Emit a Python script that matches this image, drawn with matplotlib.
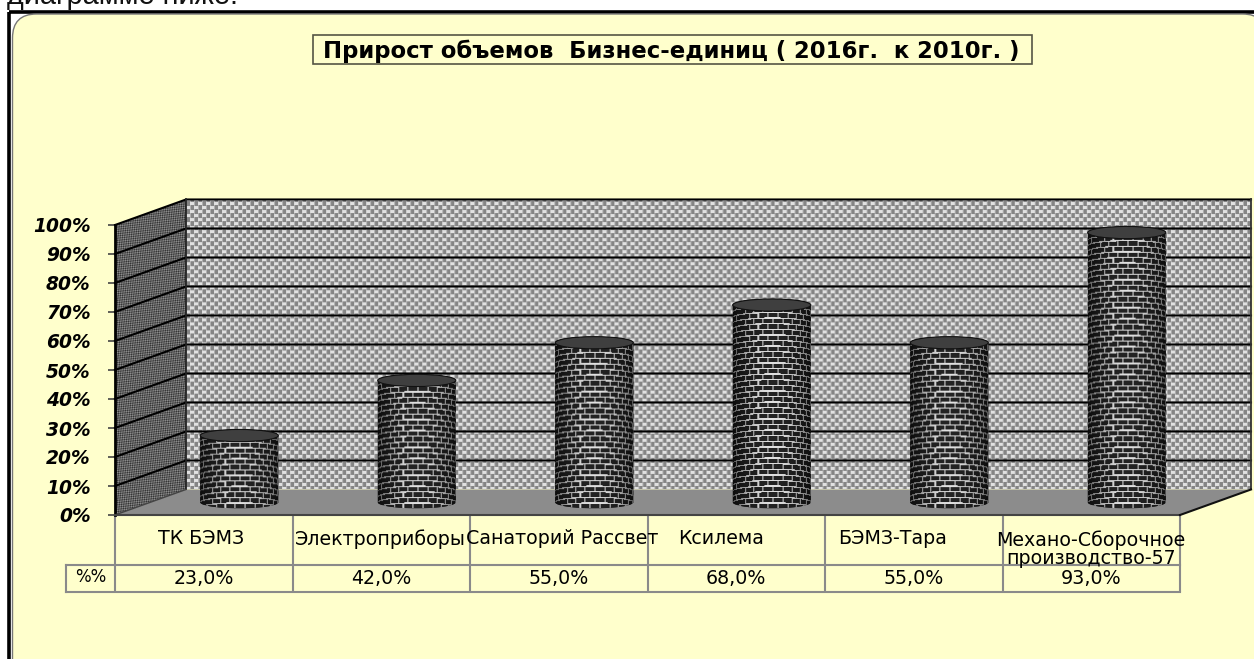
import matplotlib
matplotlib.use('Agg')
import matplotlib.pyplot as plt
import numpy as np
from matplotlib.patches import Polygon, PathPatch, Rectangle, FancyBboxPatch, Ellipse
from matplotlib.path import Path

# data from the chart
categories = ['ТК БЭМЗ', 'Электроприборы', 'Санаторий Рассвет', 'Ксилема', 'БЭМЗ-Тара',
              'Механо-Сборочное\nпроизводство-57']
values = [23.0, 42.0, 55.0, 68.0, 55.0, 93.0]
ticks = [0, 10, 20, 30, 40, 50, 60, 70, 80, 90, 100]
title = 'Прирост объемов  Бизнес-единиц ( 2016г.  к 2010г. )'
intro = 'диаграмме ниже.'
row_name = '%%'

W, H = 1254, 659
BG = '#FFFFCC'
GRID_GRAY = '#8a8a8a'
# depth of the fake 3d box, in data units
dx = 0.40
dy = 8.8
# the labels are not centred in their cells in the original
label_shift = [-3, -1, 3, -15, -21, 0]

fig = plt.figure(figsize=(W / 100, H / 100), dpi=100, facecolor='white')

# page layer in pixel coordinates (frame, title, table)
bg = fig.add_axes([0, 0, 1, 1], zorder=0)
bg.set_xlim(0, W)
bg.set_ylim(H, 0)
bg.axis('off')

bg.add_patch(Rectangle((9, 12), W, H + 100, fc='none', ec='black', lw=2.6))
bg.add_patch(FancyBboxPatch((12.5, 14), W, H + 100, boxstyle='round,pad=0,rounding_size=24',
                            fc=BG, ec='#777777', lw=1))
bg.text(7, 4, intro, fontsize=20.8, family='Liberation Sans', ha='left', va='baseline', color='#111111')

# title box
bg.add_patch(Rectangle((313, 35), 719, 29, fc=BG, ec='#555544', lw=1.2))
bg.text(671, 51, title, fontsize=16.4, family='DejaVu Sans', weight='bold', ha='center', va='center')

# table under the chart
table_x = [115 + i * 177.5 for i in range(len(categories) + 1)]
for x in table_x:
    bg.plot([x, x], [515, 592], color=GRID_GRAY, lw=1.5, solid_capstyle='butt')
bg.plot([66, 1180], [565, 565], color=GRID_GRAY, lw=1.5)
bg.plot([66, 1180], [592, 592], color=GRID_GRAY, lw=1.5)
bg.plot([66, 66], [565, 592], color=GRID_GRAY, lw=1.5)
bg.text(91, 577, row_name, fontsize=12, family='DejaVu Sans', ha='center', va='center')
for i, (name, v) in enumerate(zip(categories, values)):
    cx = (table_x[i] + table_x[i + 1]) / 2
    bg.text(cx + label_shift[i], 539 if '\n' not in name else 549, name, fontsize=13.7, family='DejaVu Sans',
            ha='center', va='center', linespacing=0.9)
    bg.text(cx, 578, f'{v:.1f}%'.replace('.', ','), fontsize=13.7, family='DejaVu Sans',
            ha='center', va='center')

# chart layer: x in categories, y in percent
ax = fig.add_axes([115 / W, (H - 515) / H, 1065 / W, 290 / H], zorder=1)
ax.patch.set_visible(False)
xmin, xmax = -0.5, 5.5
for s in ['top', 'right', 'bottom']:
    ax.spines[s].set_visible(False)
ax.spines['left'].set_linewidth(2)


def texture_image(patch, extent, tile):
    im = ax.imshow(tile, extent=extent, cmap='gray', vmin=0, vmax=1, aspect='auto',
                   interpolation='bilinear', origin='upper', zorder=patch.get_zorder() + 0.1)
    im.set_clip_box(fig.bbox)
    im.set_clip_path(patch)
    return im


def wall_tile(w, h):
    yy, xx = np.mgrid[0:h, 0:w]
    row = (yy // 4) % 2
    a = ((xx + row * 4) % 8 < 4) & (yy % 4 < 3)
    b = ((xx + row * 4) % 4 < 1)
    img = np.full(xx.shape, 0.52)
    img[a] = 0.88
    img[b & ~a] = 0.68
    return img


def side_tile(w, h):
    yy, xx = np.mgrid[0:h, 0:w]
    a = np.sin(2 * np.pi * (xx + yy) / 4.0) * np.sin(2 * np.pi * (xx - yy) / 5.0)
    return np.clip(0.38 + 0.18 * a, 0, 1)


def brick_tile(w, h):
    yy, xx = np.mgrid[0:h, 0:w]
    u = np.clip((xx + 0.5) / w * 2 - 1, -0.999, 0.999)
    # courses bend with the round of the cylinder, joints get tighter at the edges
    bend = 5 * np.sqrt(1 - u ** 2)
    v = h - yy - bend
    course = np.floor(v / 5.6)
    arc = np.arcsin(u) * 39
    mortar_h = (v % 5.6) < 1.3
    mortar_v = ((arc + course * 5) % 10) < 1.4
    shade = 0.30 + 0.70 * np.cos(u * np.pi / 2) ** 0.7
    img = np.full(u.shape, 0.14)
    img[mortar_h | mortar_v] = 0.88
    return np.clip(img * shade, 0, 1)


# back wall
back = Polygon([(xmin + dx, dy), (xmin + dx, 100 + dy), (xmax + dx, 100 + dy), (xmax + dx, dy)],
               fc='#bbbbbb', ec='none', clip_on=False, zorder=1)
ax.add_patch(back)
texture_image(back, (xmin + dx, xmax + dx, dy, 100 + dy), wall_tile(1065, 290))

# left wall
side = Polygon([(xmin, 0), (xmin, 100), (xmin + dx, 100 + dy), (xmin + dx, dy)],
               fc='#666666', ec='none', clip_on=False, zorder=1)
ax.add_patch(side)
texture_image(side, (xmin, xmin + dx, 0, 100 + dy), side_tile(72, 316))

# floor
floor = Polygon([(xmin, 0), (xmin + dx, dy), (xmax + dx, dy), (xmax, 0)],
                fc='#8c8c8c', ec='none', clip_on=False, zorder=2)
ax.add_patch(floor)

# grid lines and edges of the box
for t in ticks[1:]:
    ax.plot([xmin, xmin + dx, xmax + dx], [t, t + dy, t + dy], color='black', lw=1.5,
            clip_on=False, zorder=3)
ax.plot([xmin + dx, xmin + dx], [dy, 100 + dy], color='#222222', lw=1.3, clip_on=False, zorder=3)
ax.plot([xmax + dx, xmax + dx], [dy, 100 + dy], color='#333333', lw=1.3, clip_on=False, zorder=3)
ax.plot([xmin, xmax], [0, 0], color='#444444', lw=1.5, clip_on=False, zorder=3)
ax.plot([xmax, xmax + dx], [0, dy], color='#111111', lw=1.5, clip_on=False, zorder=3)
ax.plot([xmin, xmin + dx], [0, dy], color='#444444', lw=1, clip_on=False, zorder=3)

# cylinders
half = 0.22
ell = 2.1
t = np.linspace(0, np.pi, 40)
for i, v in enumerate(values):
    cx = i + dx / 2
    base = dy / 2
    top = base + v
    ex = half * np.cos(t)
    ey = ell * np.sin(t)
    bx = cx - ex
    by = base - ey
    tx = cx + ex
    ty = top + ey
    verts = np.column_stack([np.r_[bx, tx], np.r_[by, ty]])
    body = PathPatch(Path(np.vstack([verts, verts[0]])), fc='#222222', ec='none', clip_on=False, zorder=4)
    ax.add_patch(body)
    px_h = int(round((v + 2 * ell) * 2.9)) + 1
    texture_image(body, (cx - half, cx + half, base - ell, top + ell), brick_tile(78, px_h))
    ax.add_patch(Ellipse((cx, top), 2 * half, 2 * ell, fc='#3f3f3f', ec='#111111', lw=0.8,
                         clip_on=False, zorder=5))

ax.set_xlim(xmin, xmax)
ax.set_ylim(0, 100)
ax.set_xticks([])
ax.set_yticks(ticks)
ax.set_yticklabels([f'{t}%' for t in ticks], fontsize=13.4, family='DejaVu Sans', weight='bold', style='italic')
ax.tick_params(axis='y', length=5, width=1.2, pad=12.5, color='#444444')

fig.savefig('out.png', dpi=100)
